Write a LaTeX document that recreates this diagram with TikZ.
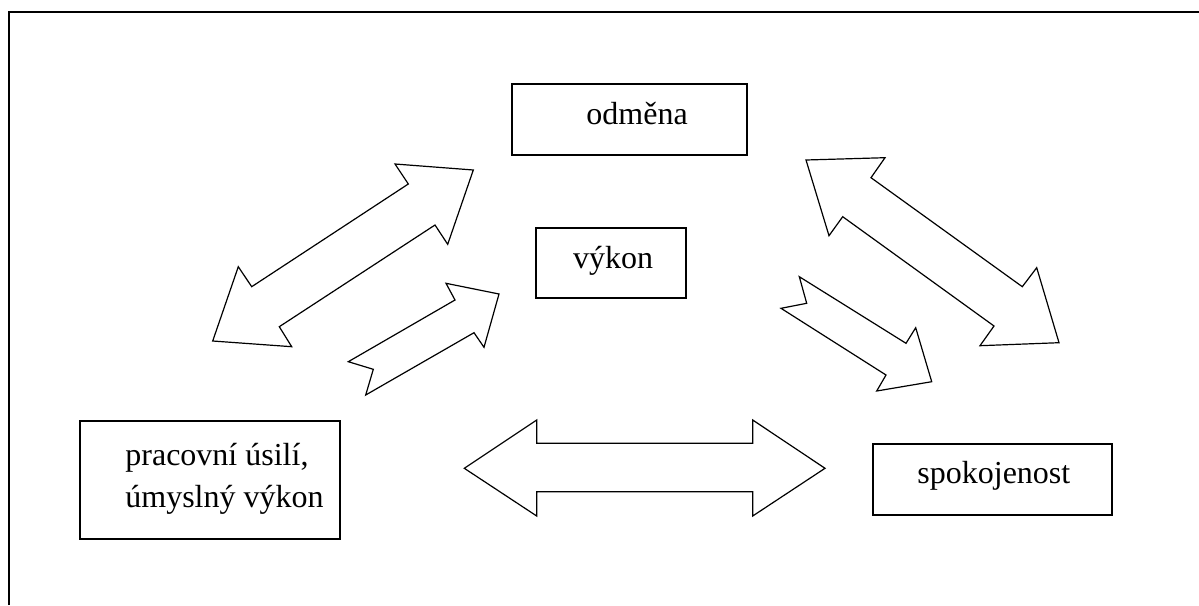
\documentclass[tikz,border=0pt]{standalone}
\usepackage{fontspec}
\setmainfont{Liberation Serif}
\begin{document}
\begin{tikzpicture}[x=0.5pt,y=-0.5pt,
  frameline/.style={line width=1pt},
  box/.style={draw, line width=0.85pt, rectangle, inner sep=0pt},
  lbl/.style={inner sep=0pt, font=\fontsize{16}{20.8}\selectfont},
  blockarrow/.style={draw, line width=0.6pt, line join=miter, fill=white}]
\useasboundingbox (0,0) rectangle (1199,605);

% outer frame (top and left edges)
\draw[frameline] (8.5,605) -- (8.5,11.5) -- (1199,11.5);

% boxes
\node[box, minimum width=117.5pt, minimum height=35.5pt] (odmena) at (629.5,119.5) {};
\node[box, minimum width=75pt, minimum height=35pt] (vykon) at (611,263) {};
\node[box, minimum width=119.5pt, minimum height=35.5pt] (spokoj) at (992.5,479.5) {};
\node[box, minimum width=130pt, minimum height=59pt] (usili) at (210,480) {};

% labels
\node[lbl, anchor=base west] (t-odmena) at (586,124) {odměna};
\node[lbl, anchor=base] (t-vykon) at (613,268) {výkon};
\node[lbl, anchor=base west] (t-spokoj) at (917,483) {spokojenost};
\node[lbl, anchor=base west] (t-usili1) at (125,465) {pracovní úsilí,};
\node[lbl, anchor=base west] (t-usili2) at (125,507) {úmyslný výkon};

% double arrow: effort <-> reward
\draw[blockarrow] (473.3,170) -- (395,164) -- (408.3,184) -- (251.7,286.7)
  -- (238.3,266.7) -- (212.7,341) -- (291.7,346.7) -- (279.3,326.7)
  -- (435,225) -- (447.7,244.3) -- cycle;

% single arrow: effort -> performance
\draw[blockarrow] (499,294) -- (446,283.3) -- (455,300) -- (348.3,361.7)
  -- (373.3,369.3) -- (365.7,395) -- (474,332.7) -- (484,347.3) -- cycle;

% double arrow: reward <-> satisfaction
\draw[blockarrow] (806,160) -- (885,157.7) -- (871,177.7) -- (1022.3,286.7)
  -- (1036.7,267.7) -- (1059,342.7) -- (980,345.7) -- (994,326)
  -- (842.7,216.7) -- (829,235.7) -- cycle;

% single arrow: performance -> satisfaction
\draw[blockarrow] (799.3,276.7) -- (906,343.3) -- (915.7,327.7) -- (931.7,381.7)
  -- (876.7,391) -- (886,375) -- (781,308.3) -- (806.7,303.3) -- cycle;

% double arrow: effort <-> satisfaction
\draw[blockarrow] (464.3,468.3) -- (536.7,420) -- (536.7,443.3) -- (752.7,443.3)
  -- (752.7,420) -- (825,468.3) -- (752.7,516) -- (752.7,491.7)
  -- (536.7,491.7) -- (536.7,516) -- cycle;
\end{tikzpicture}
\end{document}
